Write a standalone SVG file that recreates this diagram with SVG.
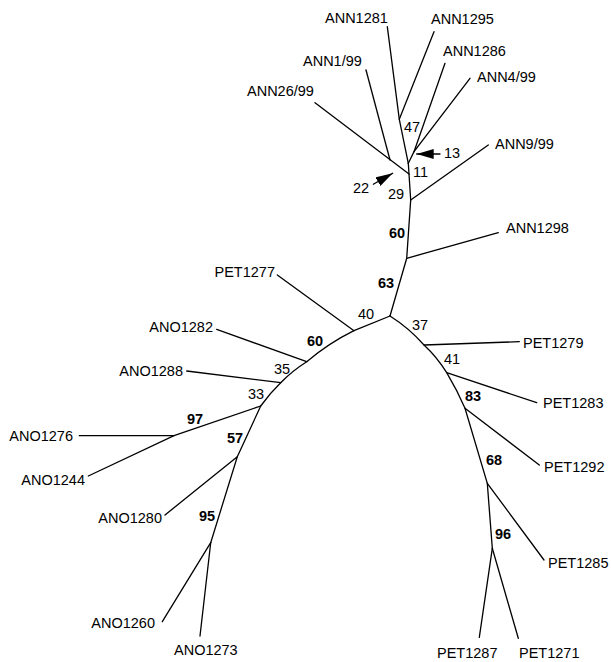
<svg xmlns="http://www.w3.org/2000/svg" width="611" height="662" viewBox="0 0 611 662">
<style>
.br{stroke:#000;stroke-width:1.3;fill:none;stroke-linecap:round}
.lb{font-family:"Liberation Sans",Arial,sans-serif;font-size:14.5px;fill:#000}
.bs{font-family:"Liberation Sans",Arial,sans-serif;font-size:14.5px;fill:#000}
.bb{font-family:"Liberation Sans",Arial,sans-serif;font-size:14.5px;font-weight:bold;fill:#000}
.end{text-anchor:end}
</style>
<defs>
<marker id="ah" markerUnits="userSpaceOnUse" markerWidth="18" markerHeight="12" refX="17" refY="5" orient="auto">
<path d="M0,0 L17,5 L0,10 Z" fill="#000"/>
</marker>
</defs>
<rect width="611" height="662" fill="#fff"/>
<g id="connectors">
<path class="br" d="M387.3,26.7 L399.3,119.3 L408.3,163.3"/>
<path class="br" d="M434,31.7 L399.3,119.3"/>
<path class="br" d="M445,63.3 L414,151.7"/>
<path class="br" d="M470,78.3 L414,151.7 L408.3,163.3"/>
<path class="br" d="M366,70 L390,160"/>
<path class="br" d="M315,102.7 L409,174"/>
<path class="br" d="M408.3,163.3 L410.7,200 L406.7,258.3 L390,316"/>
<path class="br" d="M410.7,200 L488.3,145"/>
<path class="br" d="M406.7,258.3 L498.3,232.7"/>
<path class="br" d="M390,316 L354,330.7 Q329,343 306.7,361.7 Q292,371 280.7,382.7 Q270,393 260.7,406 L237.3,456.7 L210.7,542.7"/>
<path class="br" d="M277.3,275 L354,330.7"/>
<path class="br" d="M216.7,329.3 L306.7,361.7"/>
<path class="br" d="M186.7,371 L280.7,382.7"/>
<path class="br" d="M260.7,406 L174,435.7 L88.3,476"/>
<path class="br" d="M79.3,435.7 L174,435.7"/>
<path class="br" d="M237.3,456.7 L165,515"/>
<path class="br" d="M210.7,542.7 L162.3,621.7"/>
<path class="br" d="M210.7,542.7 L200,636"/>
<path class="br" d="M390,316 Q409,328 424,345 Q437,357 446.7,372.7 Q457,390 465,408.3 L487.3,483.3 L492.3,548.3"/>
<path class="br" d="M424,345 L519.3,341.7"/>
<path class="br" d="M446.7,372.7 L536.7,402.7"/>
<path class="br" d="M465,408.3 L539.3,465"/>
<path class="br" d="M487.3,483.3 L544,560"/>
<path class="br" d="M492.3,548.3 L479.3,637.3"/>
<path class="br" d="M492.3,548.3 L518.3,638.3"/>
<line class="br" x1="440" y1="154" x2="416.7" y2="154" marker-end="url(#ah)"/>
<line class="br" x1="373.3" y1="184.3" x2="392.7" y2="173.3" marker-end="url(#ah)"/>
</g>
<g id="ANN1281"><text class="lb" x="325" y="23">ANN1281</text></g>
<g id="ANN1295"><text class="lb" x="431" y="24">ANN1295</text></g>
<g id="ANN1286"><text class="lb" x="443" y="56">ANN1286</text></g>
<g id="ANN4-99"><text class="lb" x="477" y="82">ANN4/99</text></g>
<g id="ANN9-99"><text class="lb" x="495" y="149">ANN9/99</text></g>
<g id="ANN1-99"><text class="lb" x="303" y="66">ANN1/99</text></g>
<g id="ANN26-99"><text class="lb" x="247" y="96">ANN26/99</text></g>
<g id="ANN1298"><text class="lb" x="506" y="233">ANN1298</text></g>
<g id="PET1277"><text class="lb end" x="275" y="277">PET1277</text></g>
<g id="ANO1282"><text class="lb end" x="213" y="332">ANO1282</text></g>
<g id="ANO1288"><text class="lb end" x="183" y="376">ANO1288</text></g>
<g id="ANO1276"><text class="lb end" x="73" y="441">ANO1276</text></g>
<g id="ANO1244"><text class="lb end" x="85" y="485">ANO1244</text></g>
<g id="ANO1280"><text class="lb end" x="162" y="523">ANO1280</text></g>
<g id="ANO1260"><text class="lb end" x="155" y="628">ANO1260</text></g>
<g id="ANO1273"><text class="lb" x="174" y="655">ANO1273</text></g>
<g id="PET1279"><text class="lb" x="523" y="348">PET1279</text></g>
<g id="PET1283"><text class="lb" x="543" y="408">PET1283</text></g>
<g id="PET1292"><text class="lb" x="544" y="472">PET1292</text></g>
<g id="PET1285"><text class="lb" x="548" y="568">PET1285</text></g>
<g id="PET1287"><text class="lb" x="437" y="658">PET1287</text></g>
<g id="PET1271"><text class="lb" x="519" y="658">PET1271</text></g>
<g id="n47"><text class="bs" x="404" y="132">47</text></g>
<g id="n13"><text class="bs" x="444" y="158">13</text></g>
<g id="n11"><text class="bs" x="413" y="177">11</text></g>
<g id="n22"><text class="bs" x="353" y="193">22</text></g>
<g id="n29"><text class="bs" x="388" y="199">29</text></g>
<g id="n60a"><text class="bb" x="389" y="238">60</text></g>
<g id="n63"><text class="bb" x="378" y="288">63</text></g>
<g id="n40"><text class="bs" x="358" y="319">40</text></g>
<g id="n60b"><text class="bb" x="307" y="346">60</text></g>
<g id="n35"><text class="bs" x="274" y="374">35</text></g>
<g id="n33"><text class="bs" x="248" y="399">33</text></g>
<g id="n97"><text class="bb" x="187" y="424">97</text></g>
<g id="n57"><text class="bb" x="227" y="443">57</text></g>
<g id="n95"><text class="bb" x="199" y="521">95</text></g>
<g id="n37"><text class="bs" x="412" y="330">37</text></g>
<g id="n41"><text class="bs" x="444" y="364">41</text></g>
<g id="n83"><text class="bb" x="465" y="401">83</text></g>
<g id="n68"><text class="bb" x="486" y="465">68</text></g>
<g id="n96"><text class="bb" x="495" y="539">96</text></g>
</svg>
